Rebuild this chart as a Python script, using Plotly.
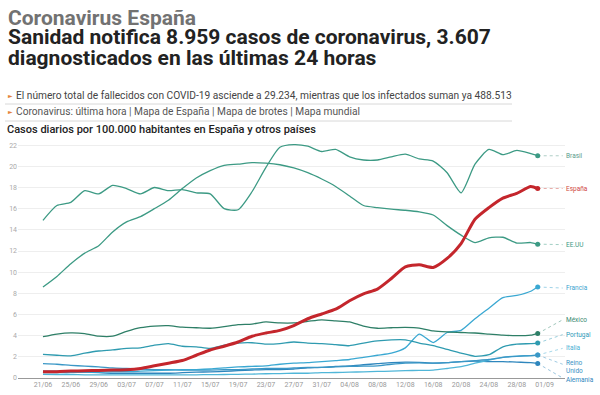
import plotly.graph_objects as go

# ---------------- data ----------------
DATES = ["2020-06-21", "2020-06-23", "2020-06-25", "2020-06-27", "2020-06-29",
         "2020-07-01", "2020-07-03", "2020-07-05", "2020-07-07", "2020-07-09",
         "2020-07-11", "2020-07-13", "2020-07-15", "2020-07-17", "2020-07-19",
         "2020-07-21", "2020-07-23", "2020-07-25", "2020-07-27", "2020-07-29",
         "2020-07-31", "2020-08-02", "2020-08-04", "2020-08-06", "2020-08-08",
         "2020-08-10", "2020-08-12", "2020-08-14", "2020-08-16", "2020-08-18",
         "2020-08-20", "2020-08-22", "2020-08-24", "2020-08-26", "2020-08-28",
         "2020-08-30", "2020-08-31"]

brasil = [14.9, 16.3, 16.6, 17.7, 17.4, 18.2, 17.9, 17.4, 18.0, 17.7,
          17.8, 17.5, 17.4, 16.0, 15.9, 17.6, 19.9, 21.8, 22.05, 21.9,
          21.4, 21.6, 20.9, 20.6, 20.6, 20.9, 21.15, 20.7, 20.5, 19.4,
          17.5, 20.2, 21.6, 21.1, 21.5, 21.2, 21.0]
eeuu = [8.6, 9.6, 10.8, 11.8, 12.5, 13.8, 14.75, 15.25, 16.0, 16.8,
        17.9, 18.9, 19.6, 20.1, 20.2, 20.35, 20.3, 20.15, 19.85, 19.4,
        18.8, 18.1, 17.2, 16.3, 16.1, 15.95, 15.85, 15.7, 15.4, 14.4,
        13.5, 12.8, 13.25, 13.3, 12.75, 12.8, 12.65]
espana = [0.6, 0.6, 0.65, 0.68, 0.72, 0.75, 0.78, 0.9, 1.15, 1.4,
          1.65, 2.15, 2.65, 3.0, 3.4, 3.95, 4.25, 4.5, 4.95, 5.6,
          6.05, 6.5, 7.3, 7.95, 8.4, 9.4, 10.5, 10.7, 10.45, 11.3,
          12.7, 15.0, 16.1, 17.0, 17.45, 18.1, 17.9]
francia = [0.5, 0.5, 0.5, 0.55, 0.55, 0.6, 0.6, 0.65, 0.7, 0.75,
           0.78, 0.8, 0.85, 0.95, 1.05, 1.1, 1.15, 1.3, 1.4, 1.45,
           1.55, 1.65, 1.75, 1.95, 2.15, 2.35, 2.85, 4.15, 3.35, 4.3,
           4.5, 5.6, 6.6, 7.6, 7.8, 8.2, 8.6]
mexico = [3.9, 4.15, 4.27, 4.2, 3.95, 3.95, 4.4, 4.75, 4.9, 4.94,
          4.8, 4.75, 4.7, 4.85, 5.05, 5.1, 5.3, 5.2, 5.2, 5.35,
          5.5, 5.4, 5.3, 4.9, 4.7, 4.75, 4.78, 4.72, 4.45, 4.35,
          4.3, 4.25, 4.15, 4.05, 4.0, 4.05, 4.2]
portugal = [2.23, 2.15, 2.1, 2.35, 2.55, 2.65, 2.8, 2.85, 3.1, 3.25,
            3.0, 2.95, 2.8, 3.1, 3.3, 3.33, 3.2, 3.25, 3.4, 3.3,
            3.25, 3.15, 3.05, 3.3, 3.5, 3.6, 3.6, 3.3, 3.05, 2.7,
            2.35, 2.05, 2.2, 2.95, 3.2, 3.25, 3.3]
italia = [0.35, 0.33, 0.32, 0.3, 0.3, 0.3, 0.3, 0.3, 0.3, 0.3,
          0.3, 0.3, 0.32, 0.33, 0.35, 0.37, 0.4, 0.42, 0.45, 0.45,
          0.5, 0.52, 0.55, 0.58, 0.62, 0.65, 0.7, 0.72, 0.75, 0.9,
          1.07, 1.4, 1.7, 1.95, 2.07, 2.12, 2.17]
reino_unido = [1.35, 1.3, 1.2, 1.12, 1.05, 0.95, 0.9, 0.85, 0.8, 0.78,
               0.75, 0.75, 0.75, 0.78, 0.8, 0.85, 0.9, 0.9, 0.95, 1.0,
               1.0, 1.05, 1.1, 1.12, 1.15, 1.3, 1.4, 1.42, 1.4, 1.45,
               1.55, 1.65, 1.75, 1.95, 2.05, 2.12, 2.17]
alemania = [0.65, 0.65, 0.6, 0.55, 0.5, 0.45, 0.45, 0.45, 0.45, 0.45,
            0.5, 0.55, 0.58, 0.62, 0.7, 0.75, 0.8, 0.8, 0.85, 0.95,
            1.0, 1.1, 1.15, 1.25, 1.35, 1.45, 1.5, 1.48, 1.4, 1.45,
            1.55, 1.6, 1.55, 1.55, 1.5, 1.45, 1.38]

SERIES_NAMES = ["Alemania", "Italia", "Reino Unido", "Francia", "Portugal",
                "México", "EE.UU", "Brasil", "España"]
LABELS = ["Alemania", "Italia", "Reino<br>Unido", "Francia", "Portugal",
          "México", "EE.UU", "Brasil", "España"]
LABEL_Y = [-0.15, 2.8, 1.0, 8.5, 4.1, 5.5, 12.6, 21.0, 17.9]
LEADER_END_Y = [0.0, 2.8, 1.3, 8.5, 4.1, 5.5, 12.6, 21.0, 17.9]
VALUES = [alemania, italia, reino_unido, francia, portugal, mexico, eeuu, brasil, espana]
LINE_COLORS = ["#2e86bd", "#50b6d8", "#3a97c6", "#3aa8d2", "#2f9bb0",
               "#2e7f67", "#3c9a84", "#3c9a84", "#c4262c"]
LABEL_COLORS = ["#2e86bd", "#4ab0d4", "#3a93c4", "#3aa3cf", "#2f9ab8",
                "#3a8a72", "#3c9a84", "#5b9c8c", "#cf4a43"]
LINE_WIDTHS = [1.3, 1.3, 1.3, 1.3, 1.3, 1.3, 1.3, 1.3, 3.0]

Y_TICKS = [0, 2, 4, 6, 8, 10, 12, 14, 16, 18, 20, 22]
Y_RANGE = [0, 22.3]
X_RANGE = ["2020-06-17 10:00", "2020-09-03 22:00"]
LEADER_X = "2020-09-03 14:00"

# -------------- geometry helpers --------------
W, H = 600, 395
L, R, T, B = 18, 565, 142, 378


def px_x(px):
    return (px - L) / (R - L)


def px_y(py):
    return (B - py) / (B - T)


def val_to_paper(v):
    return (v - Y_RANGE[0]) / (Y_RANGE[1] - Y_RANGE[0])


fig = go.Figure()

for name, vals, col, lw in zip(SERIES_NAMES, VALUES, LINE_COLORS, LINE_WIDTHS):
    fig.add_trace(go.Scatter(x=DATES, y=vals, mode="lines", name=name,
                             line=dict(color=col, width=lw, shape="spline", smoothing=0.6),
                             hoverinfo="x+y+name", showlegend=False))

# leaders, end markers, labels
for name, vals, col, lcol, lab, ly, le in zip(SERIES_NAMES, VALUES, LINE_COLORS,
                                              LABEL_COLORS, LABELS, LABEL_Y, LEADER_END_Y):
    fig.add_trace(go.Scatter(x=[DATES[-1], LEADER_X], y=[vals[-1], le], mode="lines",
                             line=dict(color=lcol, width=0.8, dash="dot"),
                             hoverinfo="skip", showlegend=False, opacity=0.6))
    fig.add_trace(go.Scatter(x=[DATES[-1]], y=[vals[-1]], mode="markers",
                             marker=dict(color=col, size=5), hoverinfo="skip",
                             showlegend=False, cliponaxis=False))
    fig.add_annotation(x=px_x(564), xref="paper", y=val_to_paper(ly), yref="paper", text=lab,
                       showarrow=False, xanchor="left", yanchor="middle", align="left",
                       font=dict(family="Roboto", size=6.5, color=lcol))

# header
FONT = "Roboto"
fig.add_annotation(x=px_x(6), y=px_y(18), xref="paper", yref="paper", text="Coronavirus España",
                   showarrow=False, xanchor="left", yanchor="middle",
                   font=dict(family=FONT, size=21, color="#727272", weight="bold"))
fig.add_annotation(x=px_x(6), y=px_y(37.5), xref="paper", yref="paper",
                   text="Sanidad notifica 8.959 casos de coronavirus, 3.607",
                   showarrow=False, xanchor="left", yanchor="middle",
                   font=dict(family=FONT, size=21, color="#222222", weight="bold"))
fig.add_annotation(x=px_x(6), y=px_y(58.5), xref="paper", yref="paper",
                   text="diagnosticados en las últimas 24 horas",
                   showarrow=False, xanchor="left", yanchor="middle",
                   font=dict(family=FONT, size=21, color="#222222", weight="bold"))
for yy in (95, 112):
    fig.add_annotation(x=px_x(6), y=px_y(yy), xref="paper", yref="paper", text="►",
                       showarrow=False, xanchor="left", yanchor="middle",
                       font=dict(family="DejaVu Sans", size=6, color="#e5833a"))
fig.add_annotation(x=px_x(14), y=px_y(95), xref="paper", yref="paper",
                   text="El número total de fallecidos con COVID-19 asciende a 29.234, mientras que los infectados suman ya 488.513",
                   showarrow=False, xanchor="left", yanchor="middle",
                   font=dict(family=FONT, size=10.2, color="#444444"))
fig.add_annotation(x=px_x(14), y=px_y(112), xref="paper", yref="paper",
                   text="Coronavirus: última hora | Mapa de España | Mapa de brotes | Mapa mundial",
                   showarrow=False, xanchor="left", yanchor="middle",
                   font=dict(family=FONT, size=10.2, color="#555555"))
fig.add_annotation(x=px_x(5), y=px_y(129.5), xref="paper", yref="paper",
                   text="Casos diarios por 100.000 habitantes en España y otros países",
                   showarrow=False, xanchor="left", yanchor="middle",
                   font=dict(family=FONT, size=11, color="#222222", weight=500))
for yy in (104, 121):
    fig.add_shape(type="line", xref="paper", yref="paper", x0=px_x(5), x1=px_x(512),
                  y0=px_y(yy), y1=px_y(yy), line=dict(color="#d8d8d8", width=1))

fig.update_layout(
    width=W, height=H, autosize=False,
    margin=dict(l=L, r=W - R, t=T, b=H - B, pad=0, autoexpand=False),
    paper_bgcolor="white", plot_bgcolor="white",
    font=dict(family=FONT),
    showlegend=False,
    xaxis=dict(type="date", range=X_RANGE, tick0="2020-06-21", dtick=4 * 86400000,
               tickformat="%d/%m", showgrid=False, showline=True, linecolor="#999999",
               linewidth=1, ticks="", tickfont=dict(size=7, color="#999999"),
               zeroline=False, fixedrange=True, automargin=False),
    yaxis=dict(range=Y_RANGE, tickvals=Y_TICKS, showgrid=True, gridcolor="#eeeeee",
               gridwidth=1, zeroline=False, showline=False, ticks="",
               tickfont=dict(size=7, color="#aaaaaa"), fixedrange=True, automargin=False),
)

fig.write_html("out.html", config={"displayModeBar": False},
               post_script="document.body.style.margin='0';document.body.style.overflow='hidden';")
